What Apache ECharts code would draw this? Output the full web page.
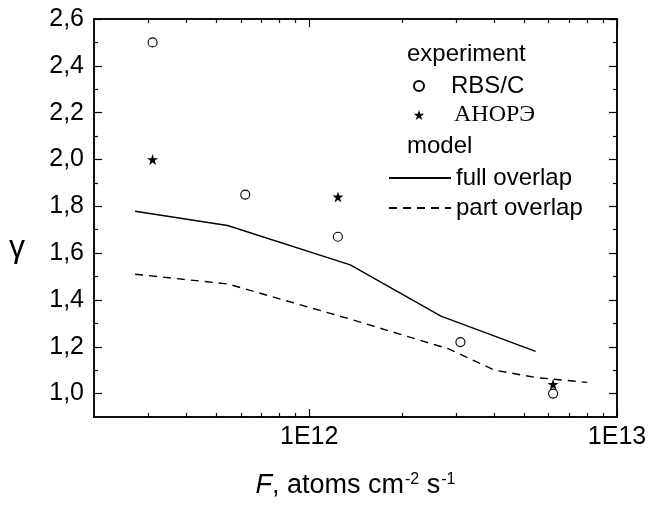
<!DOCTYPE html>
<html><head><meta charset="utf-8">
<script src="https://cdn.jsdelivr.net/npm/echarts@6/dist/echarts.min.js"></script>
<style>html,body{margin:0;padding:0;background:#fff}#c{width:649px;height:506px}</style>
</head><body><div id="c"></div>
<script>
// ---- data ----
const rbsF = [3.1e11, 6.2e11, 1.24e12, 3.1e12, 6.2e12];
const rbsGamma = [2.50, 1.85, 1.67, 1.22, 1.00];
const anorF = [3.1e11, 1.24e12, 6.2e12];
const anorGamma = [2.00, 1.84, 1.04];
const fullF = [2.72e11, 5.43e11, 1.36e12, 2.68e12, 5.44e12];
const fullGamma = [1.779, 1.718, 1.550, 1.331, 1.180];
const partF = [2.72e11, 5.45e11, 1.36e12, 2.85e12, 4.0e12, 5.5e12, 8.0e12];
const partGamma = [1.510, 1.468, 1.318, 1.190, 1.100, 1.068, 1.048];
const xMajorTicks = [1e12, 1e13];
const xMinorTicks = [3e11, 4e11, 5e11, 6e11, 7e11, 8e11, 9e11, 2e12, 3e12, 4e12, 5e12, 6e12, 7e12, 8e12, 9e12];
const yMajorTicks = [1.0, 1.2, 1.4, 1.6, 1.8, 2.0, 2.2, 2.4, 2.6];
const yMinorTicks = [1.1, 1.3, 1.5, 1.7, 1.9, 2.1, 2.3, 2.5];
const legendHeadings = ['experiment', 'model'];
const seriesNames = ['RBS/C', 'АНОРЭ', 'full overlap', 'part overlap'];

const FONT = "'Liberation Sans', Arial, sans-serif";
const SERIF = "'Liberation Serif', 'Times New Roman', serif";
const BLACK = '#000';
const zip = (a, b) => a.map((v, i) => [v, b[i]]);
const STAR = 'path://M50,0 L61.8,36.2 L100,36.2 L69.1,58.8 L80.9,95.1 L50,72.7 L19.1,95.1 L30.9,58.8 L0,36.2 L38.2,36.2 Z';

const xRange = { min: 2e11, max: 1e13 };
const yRange = { min: 0.9, max: 2.6 };
const lineStyle = { color: BLACK, width: 1.5 };

function xAxisDef(position, ticks, len, withLabels) {
  const a = {
    type: 'log', logBase: 10, position: position, min: xRange.min, max: xRange.max,
    axisLine: { show: true, onZero: false, lineStyle: lineStyle },
    axisTick: { show: true, inside: true, length: len, customValues: ticks, lineStyle: { color: BLACK, width: 1.2 } },
    axisLabel: { show: false },
    splitLine: { show: false }, minorTick: { show: false }
  };
  if (withLabels) {
    a.axisLabel = {
      show: true, customValues: xMajorTicks, margin: 8, color: BLACK, fontSize: 25, fontFamily: FONT,
      formatter: v => '1E' + Math.round(Math.log10(v))
    };
    a.name = '{i|F}, atoms cm{s|-2} s{s|-1}';
    a.nameLocation = 'middle';
    a.nameGap = 55;
    a.nameTextStyle = {
      color: BLACK, fontSize: 27, fontFamily: FONT,
      rich: {
        i: { fontStyle: 'italic', fontSize: 27, fontFamily: FONT, color: BLACK },
        s: { fontSize: 16, fontFamily: FONT, color: BLACK, verticalAlign: 'top', padding: [0, 0, 0, 1] }
      }
    };
  }
  return a;
}
function yAxisDef(position, ticks, len, withLabels) {
  const a = {
    type: 'value', position: position, min: yRange.min, max: yRange.max,
    axisLine: { show: true, onZero: false, lineStyle: lineStyle },
    axisTick: { show: true, inside: true, length: len, customValues: ticks, lineStyle: { color: BLACK, width: 1.2 } },
    axisLabel: { show: false },
    splitLine: { show: false }, minorTick: { show: false }
  };
  if (withLabels) {
    a.axisLabel = {
      show: true, customValues: yMajorTicks, margin: 10, color: BLACK, fontSize: 25, fontFamily: FONT,
      formatter: v => v.toFixed(1).replace('.', ',')
    };
    a.name = 'γ';
    a.nameLocation = 'middle';
    a.nameRotate = 0;
    a.nameGap = 69;
    a.nameTextStyle = { color: BLACK, fontSize: 32, fontFamily: FONT, verticalAlign: 'top', lineHeight: 60 };
  }
  return a;
}

const legendText = { color: BLACK, fontSize: 24, fontFamily: FONT };
const chart = echarts.init(document.getElementById('c'), null, { renderer: 'canvas' });
chart.setOption({
  animation: false,
  backgroundColor: '#fff',
  grid: { left: 94, right: 32, top: 19, bottom: 89, containLabel: false, outerBoundsMode: 'none' },
  xAxis: [
    xAxisDef('bottom', xMajorTicks, 8, true),
    xAxisDef('bottom', xMinorTicks, 4, false),
    xAxisDef('top', xMajorTicks, 8, false),
    xAxisDef('top', xMinorTicks, 4, false)
  ],
  yAxis: [
    yAxisDef('left', yMajorTicks, 8, true),
    yAxisDef('left', yMinorTicks, 4, false),
    yAxisDef('right', yMajorTicks, 8, false),
    yAxisDef('right', yMinorTicks, 4, false)
  ],
  legend: [
    { orient: 'vertical', left: 397, top: 37, itemWidth: 0, itemHeight: 1, itemGap: 7,
      data: [{ name: legendHeadings[0], icon: 'none' }],
      textStyle: legendText, selectedMode: false },
    { orient: 'vertical', left: 408, top: 69, itemWidth: 54, itemHeight: 10, itemGap: 5,
      data: [{ name: seriesNames[0] },
             { name: seriesNames[1], textStyle: { fontFamily: SERIF, fontSize: 24, color: BLACK, padding: [0, 0, 0, 3] } }],
      textStyle: legendText, selectedMode: false },
    { orient: 'vertical', left: 397, top: 129, itemWidth: 0, itemHeight: 1, itemGap: 7,
      data: [{ name: legendHeadings[1], icon: 'none' }],
      textStyle: legendText, selectedMode: false },
    { orient: 'vertical', left: 383, top: 161, itemWidth: 62, itemHeight: 12, itemGap: 6,
      itemStyle: { opacity: 0 },
      data: [{ name: seriesNames[2] }, { name: seriesNames[3] }],
      textStyle: legendText, selectedMode: false }
  ],
  series: [
    { name: legendHeadings[0], type: 'line', data: [], symbol: 'none', lineStyle: { opacity: 0 } },
    { name: legendHeadings[1], type: 'line', data: [], symbol: 'none', lineStyle: { opacity: 0 } },
    { name: seriesNames[2], type: 'line', data: zip(fullF, fullGamma), symbol: 'none', showSymbol: false,
      lineStyle: { color: BLACK, width: 1.4 }, itemStyle: { color: BLACK }, z: 3 },
    { name: seriesNames[3], type: 'line', data: zip(partF, partGamma), symbol: 'none', showSymbol: false,
      lineStyle: { color: BLACK, width: 1.4, type: [8, 6] }, itemStyle: { color: BLACK }, z: 3 },
    { name: seriesNames[0], type: 'scatter', data: zip(rbsF, rbsGamma), symbol: 'circle', symbolSize: 9,
      itemStyle: { color: '#fff', borderColor: BLACK, borderWidth: 1.1, opacity: 1 }, z: 4 },
    { name: seriesNames[1], type: 'scatter', data: zip(anorF, anorGamma), symbol: STAR, symbolSize: 11,
      itemStyle: { color: BLACK, opacity: 1 }, z: 5 }
  ]
});
</script></body></html>
